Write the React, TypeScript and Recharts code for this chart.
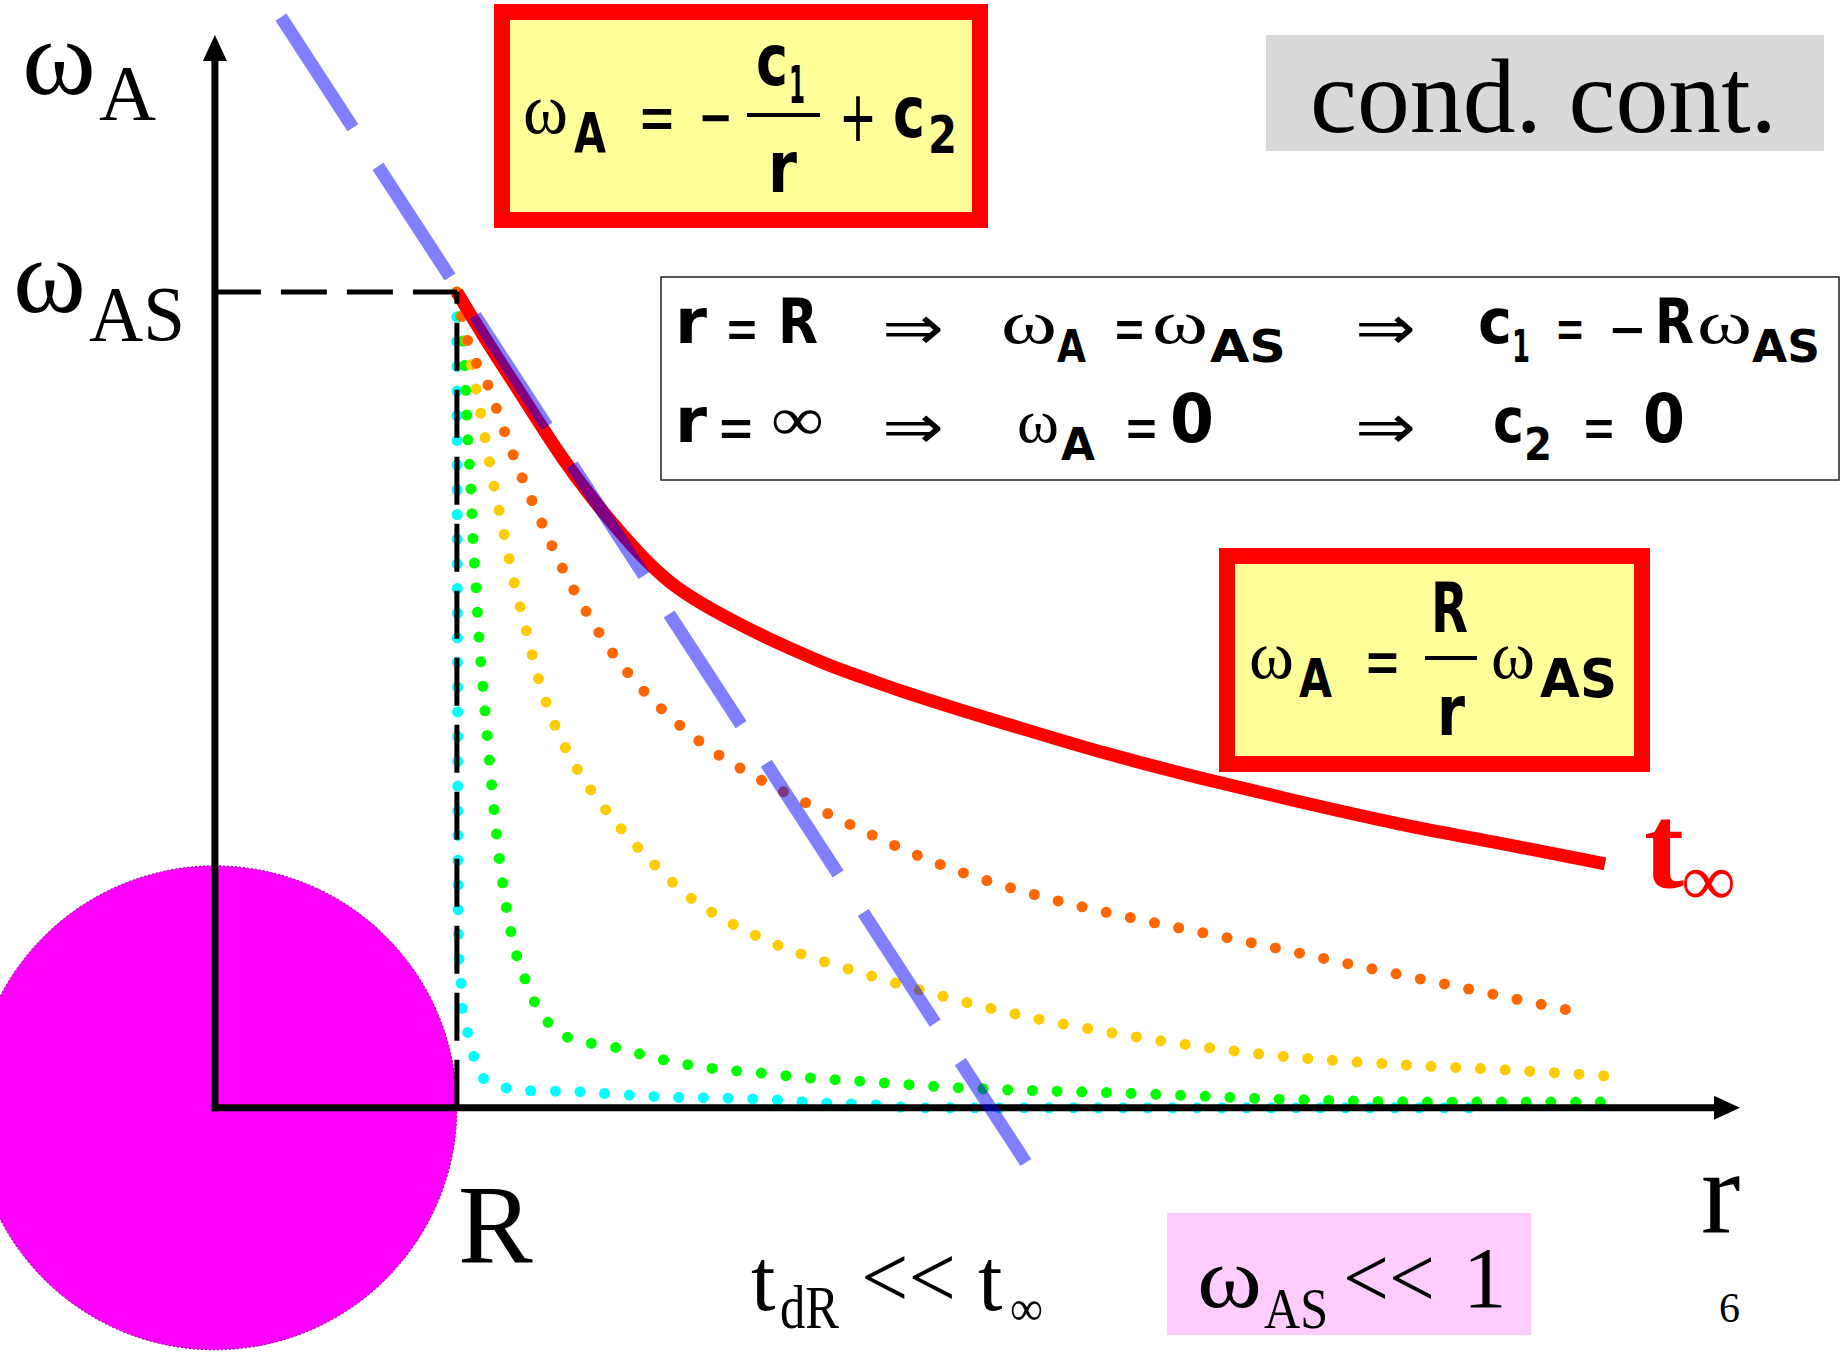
import { LineChart, Line, XAxis, YAxis, ReferenceLine, ReferenceDot } from "recharts";

const W = 1845;
const H = 1355;

// r is measured in units of R, omega in units of omega_AS
const X_MIN = -0.888;
const X_MAX = 6.736;
const Y_MIN = -0.303;
const Y_MAX = 1.358;
const PX_PER_R = W / (X_MAX - X_MIN);

const X_TIP = 6.302;
const Y_TIP = 1.315;

// t = infinity profile (solid red)
const redR = [1.0, 1.107, 1.219, 1.331, 1.438, 1.55, 1.661, 1.769, 1.88, 2.004, 2.14, 2.281, 2.417, 2.554, 2.694, 2.831, 3.107, 3.38, 3.657, 4.07, 4.483, 4.897, 5.285, 5.744];
const redW = [1.0, 0.947, 0.896, 0.844, 0.795, 0.75, 0.71, 0.674, 0.643, 0.619, 0.597, 0.576, 0.558, 0.54, 0.526, 0.511, 0.485, 0.461, 0.436, 0.404, 0.375, 0.347, 0.326, 0.299];

// intermediate times (dotted)
const orangeR = [1.0, 1.041, 1.128, 1.198, 1.269, 1.351, 1.434, 1.533, 1.64, 1.769, 1.913, 2.074, 2.161, 2.517, 3.0, 3.467, 3.864, 4.273, 4.661, 5.062, 5.653];
const orangeW = [1.0, 0.944, 0.886, 0.828, 0.773, 0.717, 0.663, 0.609, 0.559, 0.512, 0.471, 0.434, 0.418, 0.363, 0.298, 0.255, 0.228, 0.203, 0.178, 0.153, 0.116];

const yellowR = [1.0, 1.079, 1.116, 1.153, 1.194, 1.236, 1.285, 1.335, 1.401, 1.492, 1.632, 1.81, 1.959, 2.128, 2.314, 2.698, 2.992, 3.384, 3.785, 4.289, 4.888, 5.302, 5.81];
const yellowW = [1.0, 0.882, 0.822, 0.763, 0.705, 0.645, 0.587, 0.528, 0.472, 0.418, 0.359, 0.3, 0.259, 0.227, 0.201, 0.163, 0.138, 0.11, 0.088, 0.067, 0.053, 0.047, 0.038];

const greenR = [1.0, 1.037, 1.045, 1.058, 1.066, 1.079, 1.091, 1.107, 1.124, 1.174, 1.202, 1.244, 1.277, 1.314, 1.368, 1.442, 1.541, 1.64, 1.835, 2.037, 2.244, 2.442, 2.645, 3.05, 3.76, 4.475, 5.079, 5.789];
const greenW = [1.0, 0.88, 0.82, 0.76, 0.7, 0.638, 0.578, 0.518, 0.46, 0.309, 0.25, 0.19, 0.162, 0.134, 0.108, 0.089, 0.08, 0.075, 0.06, 0.049, 0.043, 0.037, 0.033, 0.025, 0.018, 0.01, 0.007, 0.007];

const cyanR = [1.0, 1.001, 1.003, 1.005, 1.008, 1.017, 1.021, 1.041, 1.066, 1.099, 1.186, 1.285, 1.488, 1.69, 1.893, 2.095, 2.298, 2.504, 2.707, 2.909, 5.252];
const cyanW = [1.0, 0.745, 0.5, 0.246, 0.186, 0.157, 0.127, 0.097, 0.067, 0.039, 0.026, 0.021, 0.02, 0.016, 0.013, 0.012, 0.01, 0.006, 0.004, 0.0, 0.0];

// tangent at r = R
const tangentR = [0.273, 3.351];
const tangentW = [1.337, -0.067];

const pts = (xs: number[], ys: number[]) => xs.map((x, i) => ({ x, y: ys[i] }));

const SERIF = "'Liberation Serif', 'Times New Roman', serif";
const SANS = "'DejaVu Sans', sans-serif";

function T({ x, y, s, f = SANS, c = "#000", w, b, children }: any) {
  return (
    <text
      x={x}
      y={y}
      fontSize={s}
      fontFamily={f}
      fill={c}
      fontWeight={b ? 700 : 400}
      textLength={w}
      lengthAdjust={w ? "spacingAndGlyphs" : undefined}
    >
      {children}
    </text>
  );
}

// letters of the formulas (rounded, heavy)
const L = (p: any) => <T {...p} b />;

const dotted = { strokeWidth: 11, strokeDasharray: "0 24.7", strokeLinecap: "round" as const };

function Overlay() {
  return (
    <svg width={W} height={H} style={{ position: "absolute", left: 0, top: 0, pointerEvents: "none" }}>
      {/* axis labels */}
      <T x={22} y={94} s={108} f={SERIF} w={74}>ω</T>
      <T x={99} y={119} s={79} f={SERIF}>A</T>
      <T x={13} y={312} s={106} f={SERIF} w={73}>ω</T>
      <T x={89} y={340} s={78} f={SERIF} w={96}>AS</T>
      <T x={458} y={1262} s={112} f={SERIF}>R</T>
      <T x={1701} y={1232} s={118} f={SERIF}>r</T>
      <T x={1644} y={887} s={120} f={SERIF} c="#ff0000" b>t</T>
      <T x={1682} y={905} s={74} f={SERIF} c="#ff0000" b w={53}>∞</T>

      {/* top formula */}
      <rect x={502} y={12} width={478} height={208} fill="#ffff99" stroke="#ff0000" strokeWidth={16} />
      <T x={523} y={133} s={72} f={SERIF} w={45}>ω</T>
      <L x={574} y={152} s={56} w={32}>A</L>
      <T x={638} y={141} s={72} w={38}>=</T>
      <T x={698} y={141} s={72} w={35}>−</T>
      <line x1={747} x2={820} y1={115} y2={115} stroke="#000" strokeWidth={4} />
      <L x={756} y={85} s={72} w={32}>c</L>
      <L x={789} y={103} s={52} w={16}>1</L>
      <L x={768} y={192} s={72} w={29}>r</L>
      <T x={839} y={141} s={72} w={38}>+</T>
      <L x={893} y={137} s={72} w={32}>c</L>
      <L x={928} y={153} s={52} w={29}>2</L>

      {/* cond. cont. */}
      <rect x={1266} y={35} width={558} height={116} fill="#d9d9d9" />
      <T x={1310} y={132} s={105} f={SERIF} w={467}>cond. cont.</T>

      {/* boundary conditions */}
      <rect x={661} y={277} width={1178} height={203} fill="#fff" stroke="#222" strokeWidth={1.5} />
      <L x={675} y={343} s={62} w={32}>r</L>
      <T x={725} y={350} s={62} w={34}>=</T>
      <L x={778} y={343} s={62} w={40}>R</L>
      <T x={882} y={349} s={62} w={62}>⇒</T>
      <T x={1001} y={343} s={62} f={SERIF} w={56}>ω</T>
      <L x={1057} y={362} s={44} w={29}>A</L>
      <T x={1113} y={350} s={62} w={33}>=</T>
      <T x={1152} y={343} s={62} f={SERIF} w={56}>ω</T>
      <L x={1210} y={362} s={44} w={76}>AS</L>
      <T x={1355} y={349} s={62} w={61}>⇒</T>
      <L x={1478} y={343} s={62} w={34}>c</L>
      <L x={1512} y={362} s={44} w={18}>1</L>
      <T x={1555} y={350} s={62} w={30}>=</T>
      <T x={1608} y={350} s={62} w={39}>−</T>
      <L x={1655} y={343} s={62} w={39}>R</L>
      <T x={1697} y={343} s={62} f={SERIF} w={55}>ω</T>
      <L x={1752} y={362} s={44} w={68}>AS</L>

      <L x={675} y={442} s={62} w={32}>r</L>
      <T x={717} y={449} s={62} w={38}>=</T>
      <T x={771} y={440} s={62} f={SERIF} w={53}>∞</T>
      <T x={882} y={448} s={62} w={62}>⇒</T>
      <T x={1017} y={442} s={62} f={SERIF} w={42}>ω</T>
      <L x={1061} y={460} s={44} w={34}>A</L>
      <T x={1124} y={449} s={62} w={35}>=</T>
      <L x={1170} y={442} s={67} w={44}>0</L>
      <T x={1355} y={448} s={62} w={61}>⇒</T>
      <L x={1493} y={442} s={62} w={31}>c</L>
      <L x={1524} y={460} s={44} w={28}>2</L>
      <T x={1582} y={449} s={62} w={34}>=</T>
      <L x={1643} y={442} s={67} w={42}>0</L>

      {/* steady solution */}
      <rect x={1227} y={556} width={415} height={208} fill="#ffff99" stroke="#ff0000" strokeWidth={16} />
      <T x={1249} y={678} s={68} f={SERIF} w={45}>ω</T>
      <L x={1299} y={697} s={54} w={33}>A</L>
      <T x={1364} y={685} s={70} w={37}>=</T>
      <line x1={1425} x2={1477} y1={658} y2={658} stroke="#000" strokeWidth={4} />
      <L x={1431} y={632} s={70} w={37}>R</L>
      <L x={1437} y={735} s={70} w={28}>r</L>
      <T x={1491} y={678} s={68} f={SERIF} w={44}>ω</T>
      <L x={1540} y={697} s={54} w={77}>AS</L>

      {/* bottom notes */}
      <T x={751} y={1310} s={88} f={SERIF}>t</T>
      <T x={780} y={1328} s={62} f={SERIF} w={59}>dR</T>
      <T x={861} y={1307} s={88} f={SERIF} w={95}>&lt;&lt;</T>
      <T x={978} y={1310} s={88} f={SERIF}>t</T>
      <T x={1010} y={1325} s={50} f={SERIF} w={33}>∞</T>

      <rect x={1167} y={1213} width={364} height={122} fill="#ffccff" />
      <T x={1197} y={1307} s={87} f={SERIF} w={65}>ω</T>
      <T x={1264} y={1328} s={58} f={SERIF} w={64}>AS</T>
      <T x={1343} y={1307} s={87} f={SERIF} w={92}>&lt;&lt;</T>
      <T x={1463} y={1307} s={87} f={SERIF}>1</T>
      <T x={1719} y={1322} s={42} f={SERIF}>6</T>
    </svg>
  );
}

export default function App() {
  return (
    <div style={{ position: "absolute", left: 0, top: 0, width: W, height: H, background: "#fff", overflow: "hidden" }}>
      <LineChart width={W} height={H} margin={{ top: 0, right: 0, bottom: 0, left: 0 }}>
        <XAxis type="number" dataKey="x" domain={[X_MIN, X_MAX]} allowDataOverflow hide />
        <YAxis type="number" domain={[Y_MIN, Y_MAX]} allowDataOverflow hide />

        <ReferenceDot
          x={0}
          y={0}
          r={PX_PER_R}
          fill="#ff00ff"
          stroke="#800080"
          strokeWidth={1}
          strokeDasharray="2 2"
          zIndex={-50}
        />

        <Line data={pts(cyanR, cyanW)} dataKey="y" type="monotone" stroke="#00ffff" {...dotted} dot={false} activeDot={false} isAnimationActive={false} />
        <Line data={pts(greenR, greenW)} dataKey="y" type="monotone" stroke="#00ff00" {...dotted} dot={false} activeDot={false} isAnimationActive={false} />
        <Line data={pts(yellowR, yellowW)} dataKey="y" type="monotone" stroke="#ffcc00" {...dotted} dot={false} activeDot={false} isAnimationActive={false} />
        <Line data={pts(orangeR, orangeW)} dataKey="y" type="monotone" stroke="#ff6600" {...dotted} dot={false} activeDot={false} isAnimationActive={false} />
        <Line data={pts(redR, redW)} dataKey="y" type="basis" stroke="#ff0000" strokeWidth={13} dot={false} activeDot={false} isAnimationActive={false} />

        {/* axes */}
        <ReferenceLine segment={[{ x: 0, y: 0 }, { x: X_TIP - 0.08, y: 0 }]} stroke="#000" strokeWidth={7} strokeLinecap="square" zIndex={450} />
        <ReferenceLine segment={[{ x: 0, y: 0 }, { x: 0, y: Y_TIP - 0.025 }]} stroke="#000" strokeWidth={7} strokeLinecap="square" zIndex={450} />
        <ReferenceDot
          x={X_TIP}
          y={0}
          zIndex={450}
          shape={(p: any) => <polygon points={`${p.cx},${p.cy} ${p.cx - 26},${p.cy - 12} ${p.cx - 26},${p.cy + 12}`} fill="#000" />}
        />
        <ReferenceDot
          x={0}
          y={Y_TIP}
          zIndex={450}
          shape={(p: any) => <polygon points={`${p.cx},${p.cy} ${p.cx - 12},${p.cy + 26} ${p.cx + 12},${p.cy + 26}`} fill="#000" />}
        />

        {/* omega_AS and R guides */}
        <ReferenceLine segment={[{ x: 0, y: 1 }, { x: 1, y: 1 }]} stroke="#000" strokeWidth={5} strokeDasharray="46 20" zIndex={450} />
        <ReferenceLine segment={[{ x: 1, y: 0 }, { x: 1, y: 1 }]} stroke="#000" strokeWidth={5} strokeDasharray="48 19" zIndex={450} />

        <Line
          data={pts(tangentR, tangentW)}
          dataKey="y"
          type="linear"
          stroke="#0000ff"
          strokeOpacity={0.5}
          strokeWidth={13}
          strokeDasharray="132 46"
          dot={false}
          activeDot={false}
          isAnimationActive={false}
          zIndex={500}
        />
      </LineChart>
      <Overlay />
    </div>
  );
}
